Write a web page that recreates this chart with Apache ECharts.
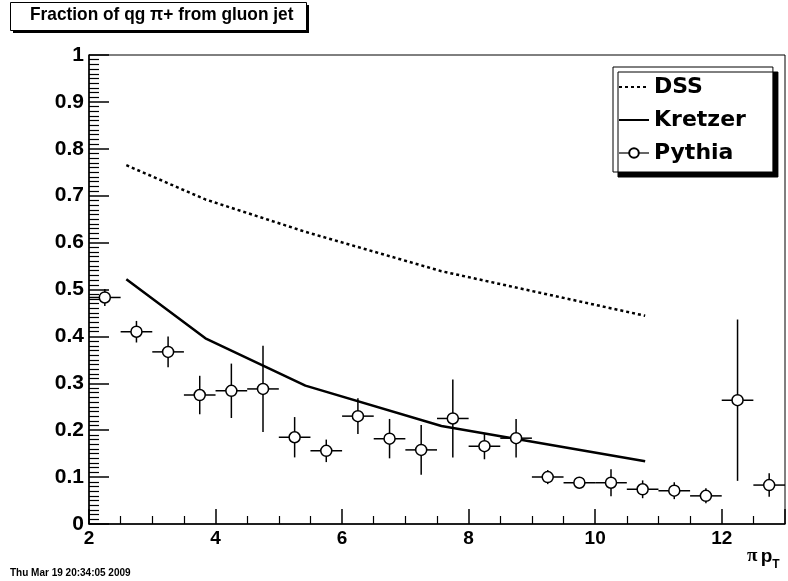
<!DOCTYPE html>
<html>
<head>
<meta charset="utf-8">
<script src="https://cdn.jsdelivr.net/npm/echarts@6/dist/echarts.min.js"></script>
<style>
  html, body { margin: 0; padding: 0; background: #fff; }
  #chart { width: 788px; height: 581px; }
</style>
</head>
<body>
<div id="chart"></div>
<script>
// Theory curves: pion pT knots and gluon-jet fractions
const theoryPt = [2.59, 3.84, 5.42, 7.57, 10.79];
const dssFrac = [0.765, 0.692, 0.623, 0.539, 0.444];
const kretzerFrac = [0.522, 0.396, 0.295, 0.209, 0.134];

// Pythia simulation: bin centres, fractions and statistical errors
const pythiaPt = [2.25, 2.75, 3.25, 3.75, 4.25, 4.75, 5.25, 5.75, 6.25, 6.75, 7.25,
                  7.75, 8.25, 8.75, 9.25, 9.75, 10.25, 10.75, 11.25, 11.75, 12.25, 12.75];
const pythiaFrac = [0.483, 0.410, 0.367, 0.275, 0.284, 0.288, 0.185, 0.156, 0.230, 0.182, 0.158,
                    0.225, 0.166, 0.183, 0.100, 0.088, 0.088, 0.074, 0.071, 0.060, 0.264, 0.083];
const pythiaErr = [0.018, 0.023, 0.033, 0.041, 0.058, 0.092, 0.043, 0.024, 0.038, 0.042, 0.053,
                   0.083, 0.028, 0.041, 0.015, 0.012, 0.029, 0.019, 0.018, 0.016, 0.172, 0.025];
const binHalfWidth = 0.25;

// Axis ranges and tick spacing
const xRange = [2, 13];
const xTickStep = 2;
const yRange = [0, 1];
const yTickStep = 0.1;

const titleText = 'Fraction of qg \u03c0+ from gluon jet';
const dateText = 'Thu Mar 19 20:34:05 2009';

const zip = (xs, ys) => xs.map((x, i) => [x, ys[i]]);

const chart = echarts.init(document.getElementById('chart'), null, { renderer: 'canvas' });

const labelFont = { fontFamily: 'Liberation Sans, Arial, sans-serif', fontWeight: 'bold', color: '#000' };
const hiddenMarker = { opacity: 0, color: 'transparent', borderColor: 'transparent', borderWidth: 0 };

chart.setOption({
  animation: false,
  backgroundColor: '#fff',
  grid: {
    left: 89, right: 1, top: 55, bottom: 57,
    show: true, borderColor: '#000', borderWidth: 1, backgroundColor: 'transparent'
  },
  xAxis: {
    type: 'value', min: xRange[0], max: xRange[1], interval: xTickStep,
    axisLine: { lineStyle: { color: '#000', width: 1.5 } },
    axisTick: { inside: true, length: 15, lineStyle: { color: '#000', width: 1.5 } },
    minorTick: { show: true, splitNumber: 4, length: 8, lineStyle: { color: '#000', width: 1.2 } },
    splitLine: { show: false },
    axisLabel: Object.assign({ fontSize: 19, margin: 5,
      formatter: v => (v === xRange[1] ? '' : String(v)) }, labelFont)
  },
  yAxis: {
    type: 'value', min: yRange[0], max: yRange[1], interval: yTickStep,
    axisLine: { lineStyle: { color: '#000', width: 1.5 } },
    axisTick: { inside: true, length: 20, lineStyle: { color: '#000', width: 1.5 } },
    minorTick: { show: true, splitNumber: 10, length: 10, lineStyle: { color: '#000', width: 1.2 } },
    splitLine: { show: false },
    axisLabel: Object.assign({ fontSize: 21, margin: 5 }, labelFont)
  },
  legend: {
    orient: 'vertical', left: 613, top: 67,
    itemWidth: 30, itemHeight: 12, itemGap: 11,
    padding: [9, 27, 8, 5],
    backgroundColor: '#fff', borderColor: '#000', borderWidth: 1,
    shadowColor: '#000', shadowOffsetX: 5, shadowOffsetY: 5, shadowBlur: 0.01,
    textStyle: { fontFamily: 'DejaVu Sans', fontWeight: 'bold', fontSize: 22, color: '#000' },
    data: [
      { name: 'DSS', itemStyle: hiddenMarker },
      { name: 'Kretzer', itemStyle: hiddenMarker },
      { name: 'Pythia', lineStyle: { width: 1.2, opacity: 1, color: '#000' } }
    ]
  },
  graphic: [
    // title box with drop shadow
    { type: 'rect', left: 13, top: 5, shape: { width: 296, height: 28 }, style: { fill: '#000' }, z: 10 },
    { type: 'rect', left: 10, top: 2, shape: { width: 296, height: 28 },
      style: { fill: '#fff', stroke: '#000', lineWidth: 1 }, z: 11 },
    { type: 'text', x: 30, y: 5, scaleX: 0.91, z: 12,
      style: { text: titleText, fill: '#000', font: 'bold 19px "Liberation Sans", Arial, sans-serif' } },
    // x-axis title
    { type: 'text', left: 747, top: 547, z: 12,
      style: {
        text: '{pi|\u03c0} {p|p}{t|T}',
        rich: {
          pi: { font: 'bold 19px "Liberation Serif", serif', fill: '#000' },
          p: { font: 'bold 19px "Liberation Sans", Arial, sans-serif', fill: '#000' },
          t: { font: 'bold 12px "Liberation Sans", Arial, sans-serif', fill: '#000', padding: [16, 0, 0, 0] }
        }
      } },
    // timestamp
    { type: 'text', left: 10, top: 568, z: 12,
      style: { text: dateText, fill: '#000', font: 'bold 10px "Liberation Sans", Arial, sans-serif' } }
  ],
  series: [
    {
      name: 'DSS', type: 'line', data: zip(theoryPt, dssFrac), symbol: 'none', z: 3,
      lineStyle: { color: '#000', width: 2.5, type: [3, 3] }, itemStyle: { color: '#000' }
    },
    {
      name: 'Kretzer', type: 'line', data: zip(theoryPt, kretzerFrac), symbol: 'none', z: 3,
      lineStyle: { color: '#000', width: 2.5 }, itemStyle: { color: '#000' }
    },
    {
      name: 'Pythia errors', type: 'custom', z: 4,
      data: pythiaPt.map((x, i) => [x, pythiaFrac[i], pythiaErr[i]]),
      renderItem: (params, api) => {
        const x = api.value(0), y = api.value(1), e = api.value(2);
        const l = api.coord([x - binHalfWidth, y]);
        const r = api.coord([x + binHalfWidth, y]);
        const t = api.coord([x, y + e]);
        const b = api.coord([x, y - e]);
        const style = { stroke: '#000', lineWidth: 1.5 };
        return { type: 'group', children: [
          { type: 'line', shape: { x1: l[0], y1: l[1], x2: r[0], y2: r[1] }, style },
          { type: 'line', shape: { x1: t[0], y1: t[1], x2: b[0], y2: b[1] }, style }
        ] };
      }
    },
    {
      name: 'Pythia', type: 'line', data: zip(pythiaPt, pythiaFrac), z: 5,
      symbol: 'circle', symbolSize: 11, showAllSymbol: true,
      lineStyle: { width: 0, opacity: 0 },
      itemStyle: { color: '#fff', borderColor: '#000', borderWidth: 1.5 }
    }
  ]
});
</script>
</body>
</html>
